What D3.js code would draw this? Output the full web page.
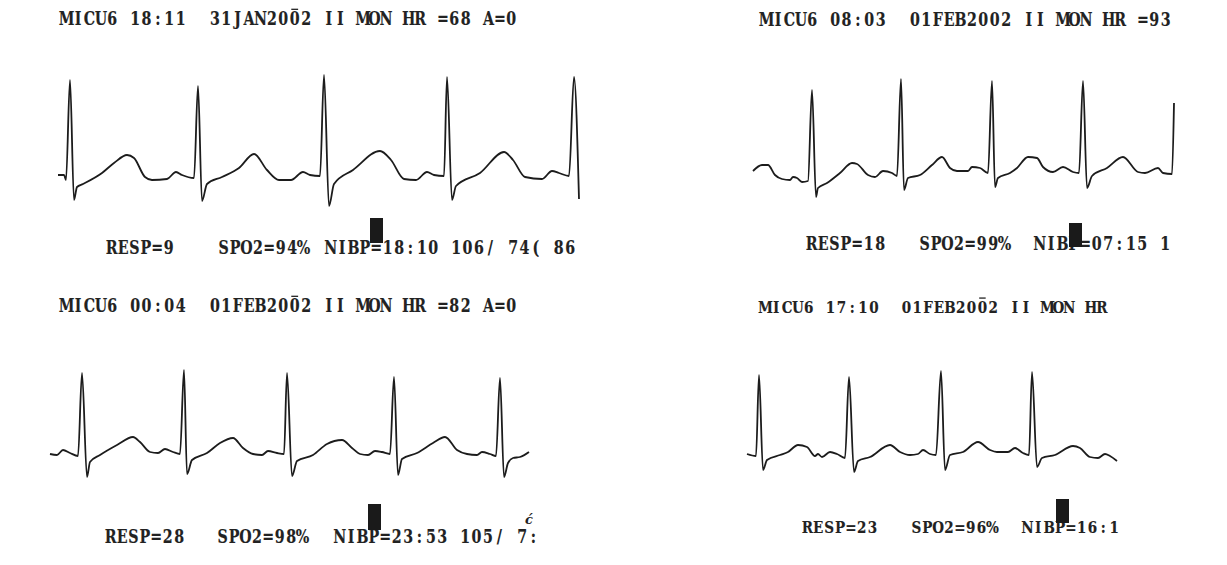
<!DOCTYPE html>
<html>
<head>
<meta charset="utf-8">
<script src="https://cdn.jsdelivr.net/npm/d3@7"></script>
<style>
  html, body { margin: 0; padding: 0; background: #fff; }
  svg { display: block; background: #fff; }
  text { font-family: "DejaVu Serif", "Liberation Serif", serif; font-weight: bold; fill: #222; }
</style>
</head>
<body>
<svg id="strip-svg" width="1227" height="565"></svg>
<script>
// -------- DATA --------
const headerLines = [
  "MICU6 18:11  31JAN200\u03052 II MON HR =68 A=0",
  "MICU6 08:03  01FEB2002 II MON HR =93",
  "MICU6 00:04  01FEB200\u03052 II MON HR =82 A=0",
  "MICU6 17:10  01FEB200\u03052 II MON HR"
];
const respLabels = ["RESP=9", "RESP=18", "RESP=28", "RESP=23"];
const spo2Labels = ["SPO2=94%", "SPO2=99%", "SPO2=98%", "SPO2=96%"];
const nibpLabels = ["NIBP=18:10 106/ 74( 86", "NIBP=07:15 1", "NIBP=23:53 105/ 7:", "NIBP=16:1"];

// lead II strips: [sample, counts above baseline]
const traceA = [
  [1, 0], [7, 0], [9, -5], [13, 95], [17, -25], [20, -12], [26, -9], [45, 2], [57, 12], [70, 20],
  [77, 17], [88, -2], [95, -5], [110, -4], [119, 3], [125, 0], [137, -3], [141, 89], [145, -26], [150, -9],
  [165, -2], [182, 7], [197, 21], [210, 5], [222, -5], [234, -5], [246, 3], [253, 0], [263, -1], [267, 100],
  [272, -31], [277, -9], [296, 5], [323, 24], [334, 15], [347, -4], [359, -5], [370, 3], [377, 0], [387, -1],
  [390, 98], [395, -25], [399, -11], [423, 2], [447, 23], [456, 15], [468, -2], [485, -4], [495, 4], [502, 2],
  [512, -1], [517, 98], [522, -24]
];
const traceB = [
  [0, 1], [9, 7], [15, 7], [22, -3], [29, -7], [37, -8], [40, -5], [44, -6], [49, -10], [55, -9],
  [59, 82], [63, -25], [65, -16], [74, -11], [87, -1], [99, 9], [104, 8], [115, -3], [122, -5], [130, 1],
  [139, -1], [144, -4], [148, 93], [151, -18], [155, -6], [167, -3], [179, 7], [189, 15], [197, 4], [204, 1],
  [215, 1], [219, 5], [227, 4], [235, -1], [239, 91], [242, -15], [245, -6], [257, -1], [264, 4], [275, 15],
  [284, 14], [290, 5], [300, 0], [310, 5], [320, 0], [326, -1], [330, 91], [334, -16], [339, -4], [354, 4],
  [370, 15], [385, 0], [392, -1], [405, 4], [410, -1], [419, -2], [421, 69]
];
const traceC = [
  [0, 0], [7, -1], [13, 4], [20, 1], [28, -2], [32, 81], [37, -23], [40, -8], [50, -1], [67, 9],
  [83, 17], [90, 12], [100, 2], [108, 1], [115, 5], [123, 2], [130, 0], [134, 84], [137, -20], [142, -6],
  [157, 1], [170, 11], [183, 16], [193, 6], [203, 0], [212, -1], [218, 3], [227, 1], [234, 0], [237, 81],
  [242, -22], [247, -7], [263, -1], [277, 10], [292, 14], [302, 6], [310, 0], [318, -1], [325, 3], [332, 2],
  [340, 0], [344, 77], [348, -21], [352, -5], [367, 1], [383, 11], [395, 17], [407, 4], [417, 0], [427, -1],
  [432, 2], [440, 0], [446, -2], [450, 76], [454, -23], [458, -9], [463, -4], [470, -3], [479, 2]
];
const traceD = [
  [1, 1], [10, -1], [13, 80], [17, -15], [21, -5], [34, 0], [42, 3], [52, 10], [61, 8], [69, -1],
  [72, 1], [76, -2], [84, 3], [91, 1], [99, -3], [103, 78], [108, -17], [112, -6], [124, -2], [144, 10],
  [154, 3], [164, 0], [172, 1], [177, 5], [184, 1], [190, 0], [195, 84], [199, -15], [204, 0], [217, 3],
  [232, 13], [244, 5], [251, 3], [262, 3], [269, 7], [277, 2], [283, 0], [286, 83], [291, -12], [296, -3],
  [309, 0], [327, 9], [334, 7], [344, -2], [352, -3], [359, 1], [364, -1], [371, -6]
];

// -------- LAYOUT --------
const panels = [
  { trace: traceA, x0: 57, base: 175, cw: 11.4, head: [61, 25], foot: [106, 218, 325], footY: 254, marker: [370, 218, 13, 25] },
  { trace: traceB, x0: 753, base: 172, cw: 11.4, head: [761, 26], foot: [806, 919, 1034], footY: 250, marker: [1069, 223, 13, 24] },
  { trace: traceC, x0: 50, base: 454, cw: 11.4, head: [61, 312], foot: [105, 217, 334], footY: 543, marker: [368, 504, 13, 26] },
  { trace: traceD, x0: 746, base: 455, cw: 10.85, head: [760, 313], foot: [802, 911, 1022], footY: 533, marker: [1056, 499, 13, 24] }
];
const squeeze = 0.78;   // printer glyphs are narrow and tall

const svg = d3.select("#strip-svg");

panels.forEach((p, i) => drawPanel(p, i));

// stray glyph from the row below the third strip
svg.append("text")
  .attr("x", 529)
  .attr("y", 524)
  .attr("text-anchor", "middle")
  .attr("font-size", 13)
  .attr("font-style", "italic")
  .attr("font-weight", "normal")
  .text("ć");

// -------- PANEL --------
function drawPanel(p, i) {
  const x = d3.scaleLinear().domain([0, 100]).range([p.x0, p.x0 + 100]);
  const y = d3.scaleLinear().domain([0, 100]).range([p.base, p.base - 100]);

  const line = d3.line()
    .curve(d3.curveMonotoneX)
    .x(d => x(d[0]))
    .y(d => y(d[1]));

  svg.append("path")
    .datum(p.trace)
    .attr("d", line)
    .attr("fill", "none")
    .attr("stroke", "#1c1c1c")
    .attr("stroke-width", 1.8)
    .attr("stroke-linejoin", "round");

  monoText(headerLines[i], p.head[0], p.head[1], p.cw);

  const footTexts = [respLabels[i], spo2Labels[i], nibpLabels[i]];
  footTexts.forEach((t, k) => monoText(t, p.foot[k], p.footY, p.cw));

  // NIBP marker block
  svg.append("rect")
    .attr("x", p.marker[0])
    .attr("y", p.marker[1])
    .attr("width", p.marker[2])
    .attr("height", p.marker[3])
    .attr("fill", "#1a1a1a");
}

// -------- FIXED-PITCH TEXT --------
// one glyph per cell, like the strip printer; combining overline drawn as a bar
function monoText(str, x0, yBase, cw) {
  const chars = Array.from(str);
  const cells = [];
  const bars = [];
  let col = 0;
  chars.forEach(c => {
    if (c === "\u0305") { bars.push(col - 1); return; }
    cells.push({ c, col });
    col++;
  });

  const fs = cw * 1.6;
  const g = svg.append("text")
    .attr("transform", `translate(${x0},${yBase}) scale(${squeeze},1)`)
    .attr("font-size", fs)
    .attr("text-anchor", "middle")
    .attr("stroke", "#222")
    .attr("stroke-width", 0.15)
    .attr("x", cells.map(d => ((d.col + 0.5) * cw / squeeze).toFixed(2)).join(" "))
    .attr("y", 0)
    .style("white-space", "pre")
    .text(cells.map(d => d.c).join(""));

  bars.forEach(b => {
    svg.append("line")
      .attr("x1", x0 + b * cw + cw * 0.2)
      .attr("x2", x0 + b * cw + cw * 0.8)
      .attr("y1", yBase - fs * 0.86)
      .attr("y2", yBase - fs * 0.86)
      .attr("stroke", "#222")
      .attr("stroke-width", 1.3);
  });
  return g;
}
</script>
</body>
</html>
